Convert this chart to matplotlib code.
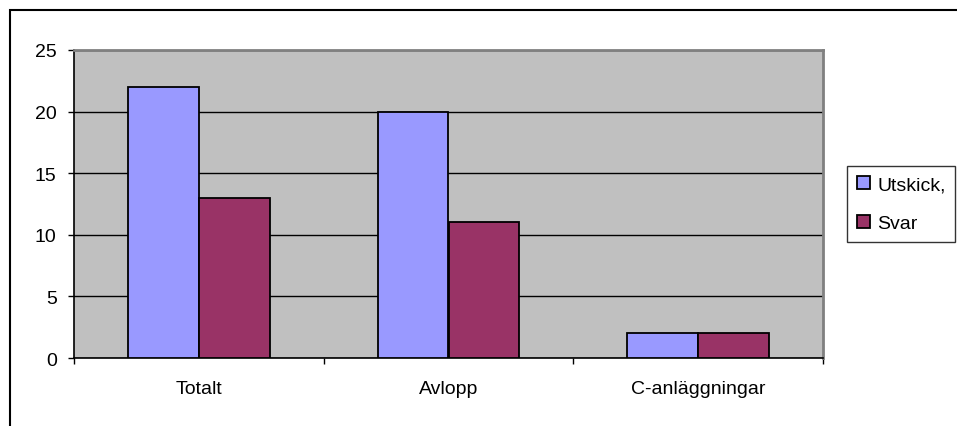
import matplotlib.pyplot as plt
import matplotlib.patches as mpatches
import numpy as np

categories = ["Totalt", "Avlopp", "C-anläggningar"]
utskick = [22, 20, 2]
svar = [13, 11, 2]
series_names = ["Utskick,", "Svar"]

plt.rcParams['font.family'] = ['Liberation Sans', 'DejaVu Sans']
plt.rcParams['font.size'] = 14

fig = plt.figure(figsize=(9.57, 4.27), dpi=100)

# outer chart border (only top/left visible in the picture)
fig.patches.append(mpatches.Rectangle((10 / 957, -0.2), 1.2, 1 - 11 / 427 + 0.2,
                                      transform=fig.transFigure, fill=False,
                                      edgecolor="black", linewidth=1.5))

ax = fig.add_axes([74 / 957, 1 - 359 / 427, (823 - 74) / 957, (359 - 51) / 427])
ax.set_facecolor("#C0C0C0")

x = np.arange(len(categories))
w = 0.284
b1 = ax.bar(x - w / 2, utskick, w, color="#9999FF", edgecolor="black", linewidth=1.3, zorder=3,
            label=series_names[0])
b2 = ax.bar(x + w / 2, svar, w, color="#993366", edgecolor="black", linewidth=1.3, zorder=3,
            label=series_names[1])

ax.set_xlim(-0.5, len(categories) - 0.5)
ax.set_ylim(0, 25)
ax.set_yticks(range(0, 26, 5))
ax.yaxis.grid(True, color="black", linewidth=1, zorder=1)
ax.set_axisbelow(True)

ax.set_xticks(x)
ax.set_xticklabels(categories)
ax.set_xticks(np.arange(-0.5, len(categories), 1), minor=True)
ax.tick_params(axis="x", which="major", length=0, pad=16)
ax.tick_params(axis="x", which="minor", length=4, width=1, color="black")
ax.tick_params(axis="y", length=4, width=1, color="black", pad=8.5)

for s in ["left", "bottom"]:
    ax.spines[s].set_color("black")
    ax.spines[s].set_linewidth(1.2)
for s in ["top", "right"]:
    ax.spines[s].set_color("#808080")
    ax.spines[s].set_linewidth(2)

leg = fig.legend(handles=[b1, b2], labels=series_names, loc="upper left",
                 bbox_to_anchor=(847 / 957, 1 - 167 / 427), frameon=True, fancybox=False,
                 edgecolor="black", handlelength=0.7, handleheight=0.7, handletextpad=0.35,
                 borderpad=0.5, labelspacing=1.1, borderaxespad=0)
leg.get_frame().set_linewidth(1)

fig.savefig("out.png", dpi=100)
